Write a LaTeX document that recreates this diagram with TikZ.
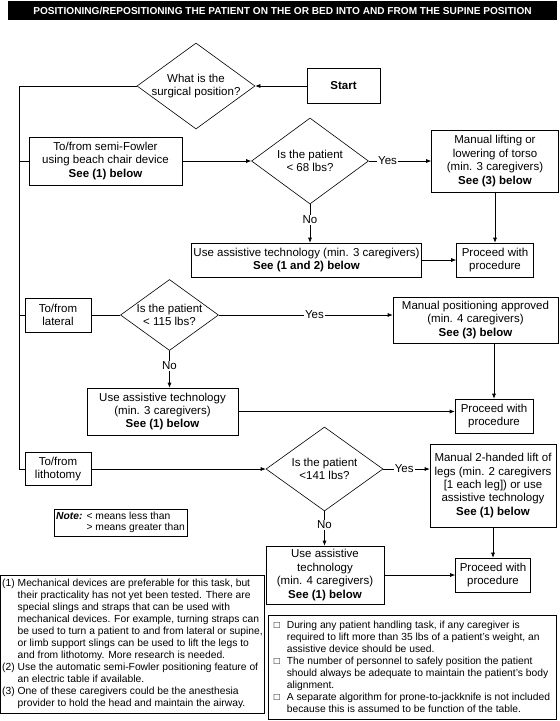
\documentclass[tikz,border=0pt]{standalone}
\usepackage{fontspec}
\setmainfont{Liberation Sans}
\usetikzlibrary{shapes.geometric,arrows.meta}

\newcommand{\boxitem}{\makebox[13pt][l]{\fontsize{10}{10}\selectfont □}}
\newcommand{\boxindent}{\hspace*{13pt}}

\begin{document}
\begin{tikzpicture}[
    x=1pt, y=-1pt,
    font=\fontsize{11.5}{13.4}\selectfont,
    box/.style={draw, align=center, inner sep=2pt, line width=0.6pt},
    decision/.style={draw, diamond, aspect=1.37, align=center, inner sep=0pt, line width=0.6pt},
    note/.style={draw, align=left, inner sep=2pt, line width=0.6pt, font=\fontsize{10.3}{12}\selectfont},
    arrow/.style={-{Latex[length=5pt, width=4pt]}, line width=0.6pt},
    link/.style={line width=0.6pt},
    answer/.style={fill=white, inner sep=1pt}
  ]
    \useasboundingbox (0,0) rectangle (560,721);
    \node[fill=black, text=white, minimum width=549pt, minimum height=19pt, font=\bfseries\fontsize{10.1}{12}\selectfont] (title) at (282.5,10.5) {POSITIONING/REPOSITIONING THE PATIENT ON THE OR BED INTO AND FROM THE SUPINE POSITION};
    \node[decision, minimum width=118pt, minimum height=86pt, inner xsep=-3pt] (q1) at (196,86) {What is the\\surgical position?};
    \node[box, minimum width=73pt, minimum height=35pt] (start) at (343.5,86) {\textbf{Start}};
    \node[box, minimum width=153pt, minimum height=48pt] (fowler) at (105.5,161) {To/from semi-Fowler\\using beach chair device\\\textbf{See (1) below}};
    \node[decision, minimum width=117pt, minimum height=86pt] (q2) at (310,161) {Is the patient\\< 68 lbs?};
    \node[box, minimum width=127pt, minimum height=62pt] (lift) at (495,161) {Manual lifting or\\lowering of torso\\(min. 3 caregivers)\\\textbf{See (3) below}};
    \node[box, minimum width=229pt, minimum height=34pt] (assist1) at (306.5,260) {Use assistive technology (min. 3 caregivers)\\\textbf{See (1 and 2) below}};
    \node[box, minimum width=77pt, minimum height=34pt] (go1) at (495,260) {Proceed with\\procedure};
    \node[box, minimum width=66pt, minimum height=34pt] (lateral) at (58,315) {To/from\\lateral};
    \node[decision, minimum width=98pt, minimum height=71pt] (q3) at (169.5,315) {Is the patient\\< 115 lbs?};
    \node[box, minimum width=165pt, minimum height=46pt] (manual) at (475.5,320) {Manual positioning approved\\(min. 4 caregivers)\\\textbf{See (3) below}};
    \node[box, minimum width=151pt, minimum height=47pt] (assist2) at (162.5,411.5) {Use assistive technology\\(min. 3 caregivers)\\\textbf{See (1) below}};
    \node[box, minimum width=78pt, minimum height=34pt] (go2) at (494,416) {Proceed with\\procedure};
    \node[box, minimum width=66pt, minimum height=33pt] (litho) at (58,469) {To/from\\lithotomy};
    \node[decision, minimum width=117pt, minimum height=84pt] (q4) at (324.5,469) {Is the patient\\<141 lbs?};
    \node[box, minimum width=126pt, minimum height=83pt] (legs) at (493,485.5) {Manual 2-handed lift of\\legs (min. 2 caregivers\\{[1 each leg]}) or use\\assistive technology\\\textbf{See (1) below}};
    \node[box, minimum width=118pt, minimum height=58pt] (assist3) at (325,575) {Use assistive\\technology\\(min. 4 caregivers)\\\textbf{See (1) below}};
    \node[box, minimum width=75pt, minimum height=34pt] (go3) at (493,575) {Proceed with\\procedure};
    \node[note, minimum width=133pt, minimum height=25pt, font=\fontsize{10.3}{11.3}\selectfont] (key) at (120.5,522.5) {\begin{tabular}{@{}l@{\hspace{4pt}}l@{}}\textbf{\textit{Note:}} & < means less than\\ & > means greater than\end{tabular}};
    \node[note, minimum width=261pt, minimum height=138pt] (refs) at (132.5,644) {(1) Mechanical devices are preferable for this task, but\\\phantom{(1) }their practicality has not yet been tested. There are\\\phantom{(1) }special slings and straps that can be used with\\\phantom{(1) }mechanical devices. For example, turning straps can\\\phantom{(1) }be used to turn a patient to and from lateral or supine,\\\phantom{(1) }or limb support slings can be used to lift the legs to\\\phantom{(1) }and from lithotomy. More research is needed.\\(2) Use the automatic semi-Fowler positioning feature of\\\phantom{(2) }an electric table if available.\\(3) One of these caregivers could be the anesthesia\\\phantom{(3) }provider to hold the head and maintain the airway.};
    \node[note, minimum width=288pt, minimum height=104pt] (rules) at (412,667) {\boxitem During any patient handling task, if any caregiver is\\\boxindent required to lift more than 35 lbs of a patient's weight, an\\\boxindent assistive device should be used.\\\boxitem The number of personnel to safely position the patient\\\boxindent should always be adequate to maintain the patient's body\\\boxindent alignment.\\\boxitem A separate algorithm for prone-to-jackknife is not included\\\boxindent because this is assumed to be function of the table.};
    \coordinate (bus) at (19,0);
    \draw[arrow] (start) -- (q1);
    \draw[link] (q1.west) -| (bus |- litho) -- (litho.west);
    \draw[link] (bus |- fowler) -- (fowler.west);
    \draw[link] (bus |- lateral) -- (lateral.west);
    \draw[arrow] (fowler) -- (q2);
    \draw[arrow] (q2) -- node[answer, pos=0.3] {Yes} (lift);
    \draw[arrow] (q2.south) -- node[answer, pos=0.4] {No} (q2.south |- assist1.north);
    \draw[arrow] (lift) -- (go1);
    \draw[arrow] (assist1) -- (go1);
    \draw[link] (lateral) -- (q3);
    \draw[arrow] (q3.east) -- node[answer, pos=0.55] {Yes} (q3.east -| manual.west);
    \draw[arrow] (q3.south) -- node[answer, pos=0.4] {No} (q3.south |- assist2.north);
    \draw[arrow] (go2.north |- manual.south) -- (go2.north);
    \draw[arrow] (assist2.east) -- (assist2.east -| go2.west);
    \draw[arrow] (litho) -- (q4);
    \draw[arrow] (q4.east) -- node[answer, pos=0.45] {Yes} (q4.east -| legs.west);
    \draw[arrow] (q4.south) -- node[answer, pos=0.4] {No} (q4.south |- assist3.north);
    \draw[arrow] (legs) -- (go3);
    \draw[arrow] (assist3) -- (go3);
  \end{tikzpicture}
\end{document}
